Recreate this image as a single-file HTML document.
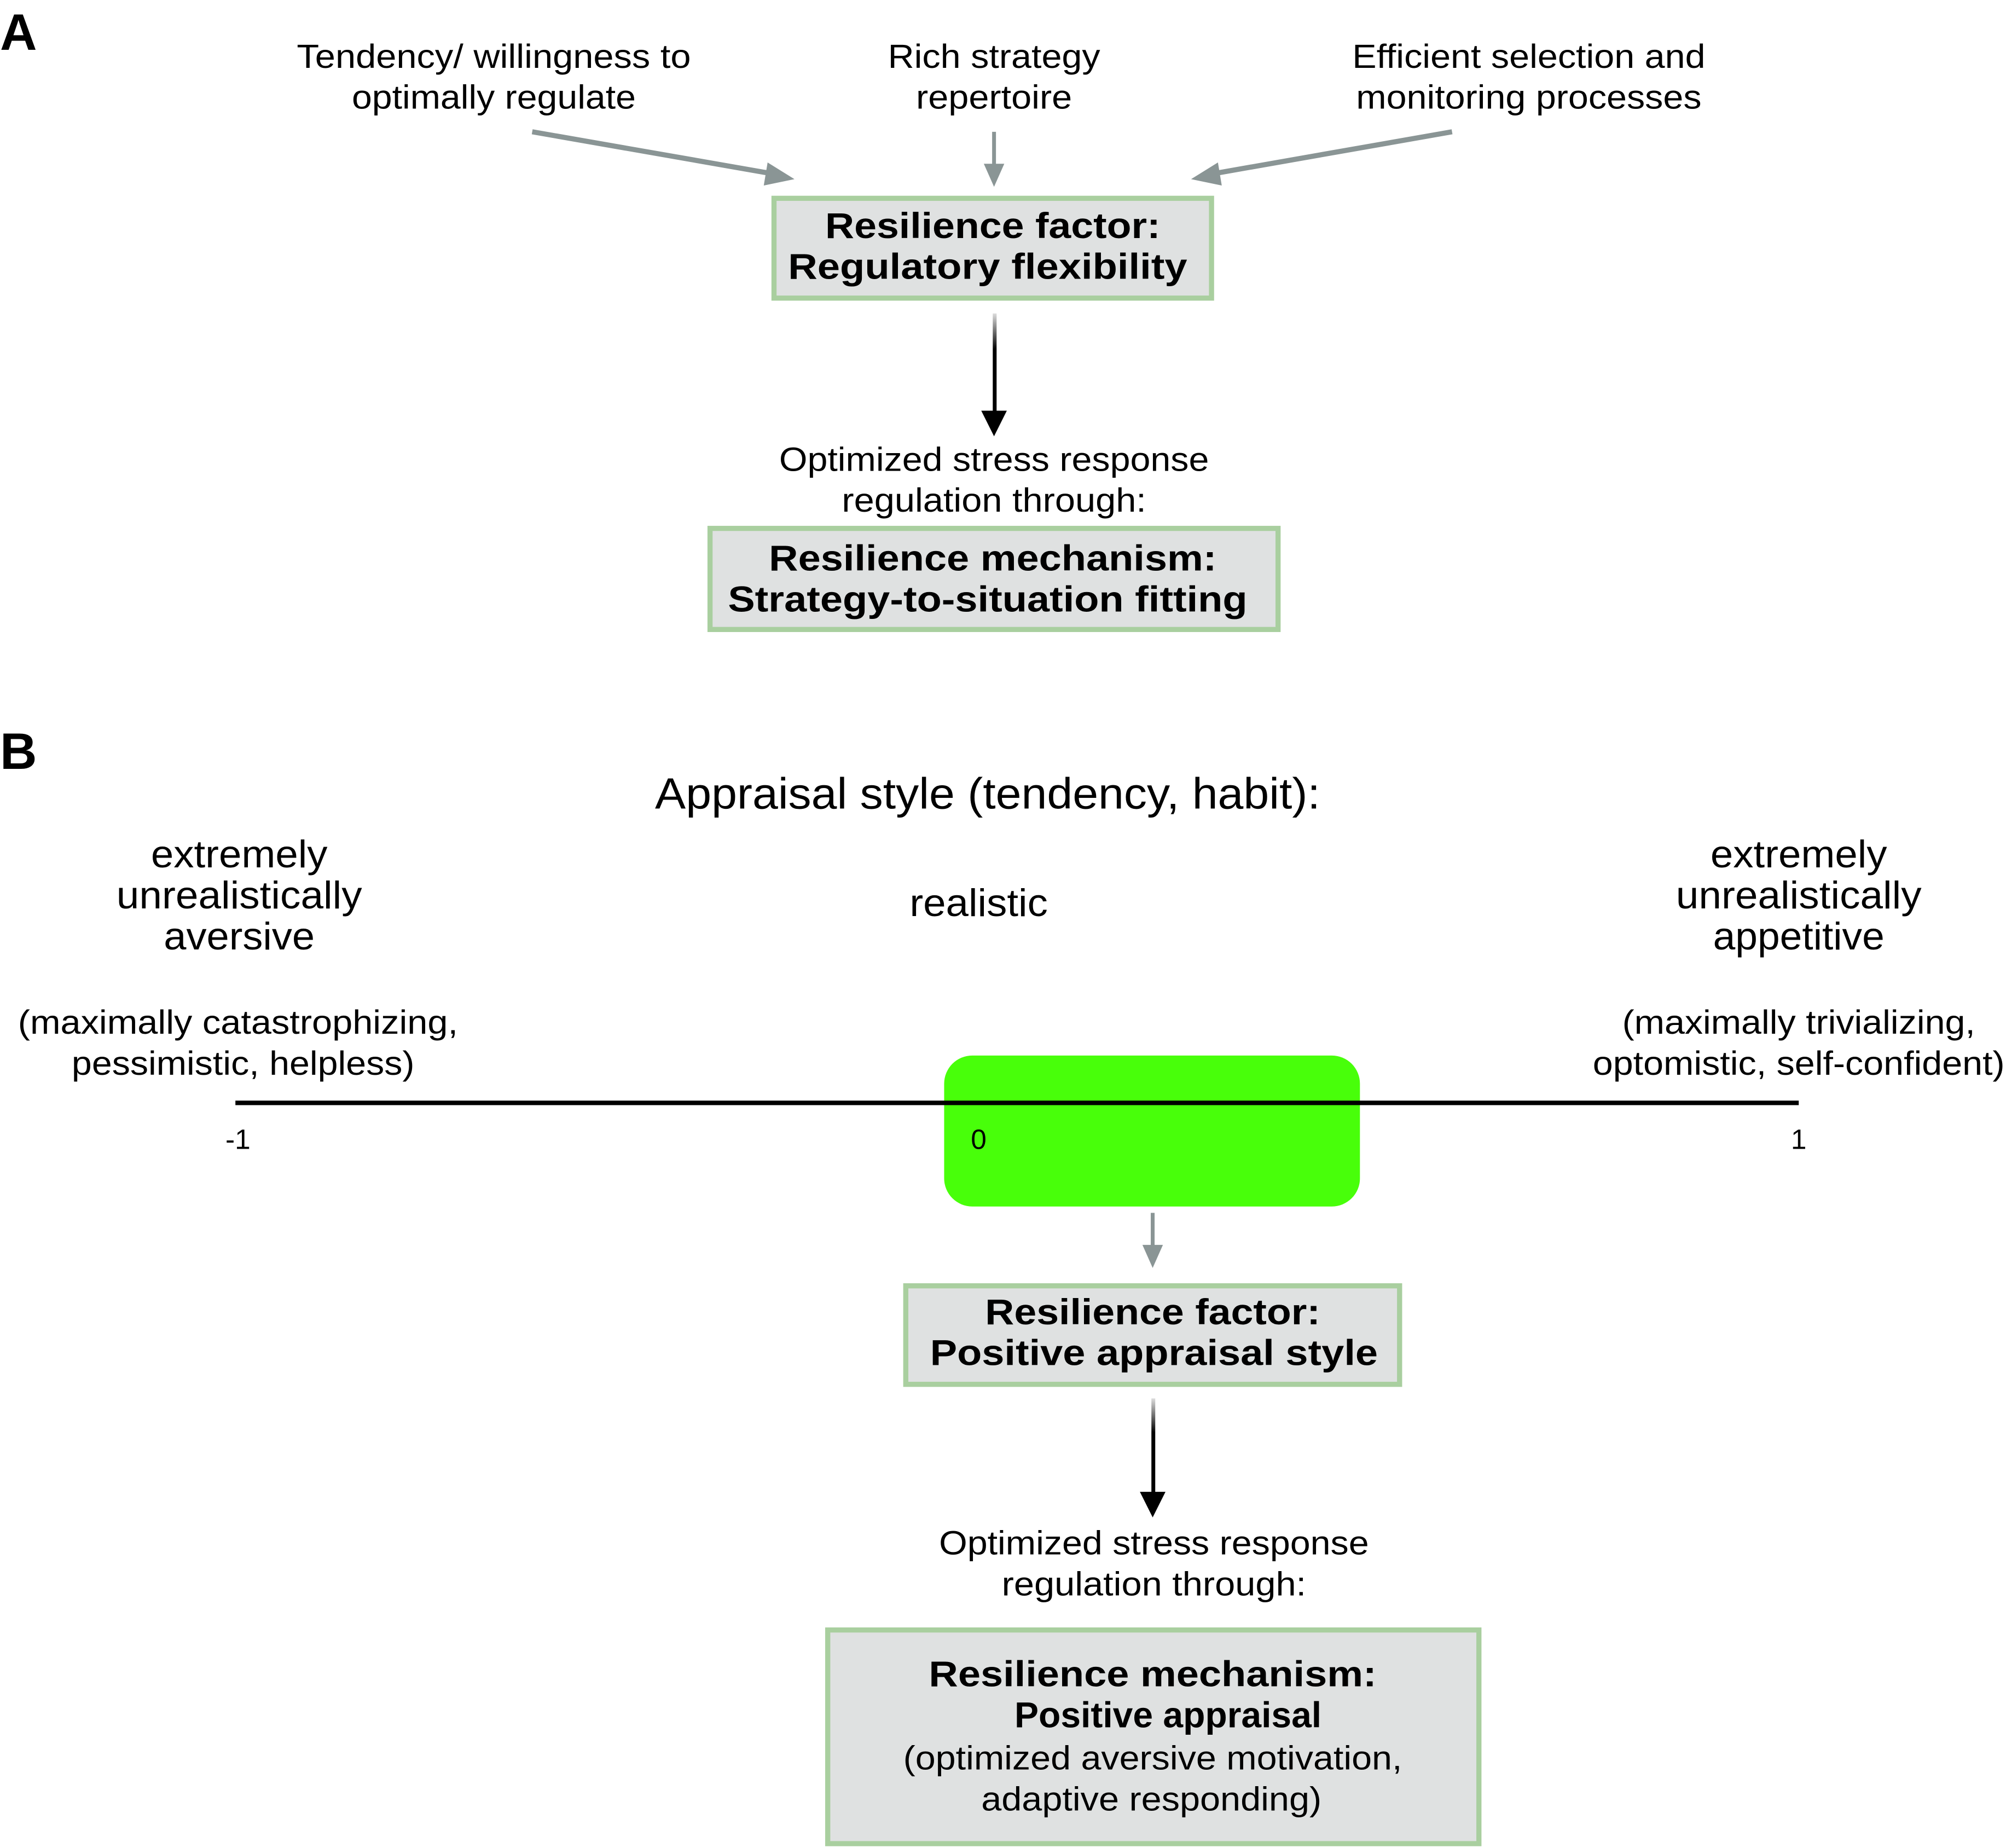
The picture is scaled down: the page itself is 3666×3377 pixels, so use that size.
<!DOCTYPE html>
<html><head><meta charset="utf-8"><style>
html,body{margin:0;padding:0;background:#fff;}
svg{display:block;}
text{font-family:"Liberation Sans",Arial,sans-serif;fill:#000;}
.n{font-size:26px;}
.b{font-size:28px;font-weight:bold;}
.l{font-size:30px;}
</style></head><body>
<svg width="3666" height="3377" viewBox="0 0 1568 1444.4" xmlns="http://www.w3.org/2000/svg">
<defs>
<linearGradient id="g" x1="0" y1="0" x2="0" y2="1"><stop offset="0" stop-color="#ddd"/><stop offset="0.35" stop-color="#000"/></linearGradient>
</defs>
<text x="0" y="39" style="font-size:40px;font-weight:bold">A</text>
<text x="0" y="601" style="font-size:40px;font-weight:bold">B</text>

<g class="n" text-anchor="middle">
<text x="386" y="53" textLength="308" lengthAdjust="spacingAndGlyphs">Tendency/ willingness to</text>
<text x="386" y="85" textLength="222" lengthAdjust="spacingAndGlyphs">optimally regulate</text>
<text x="777" y="53" textLength="166" lengthAdjust="spacingAndGlyphs">Rich strategy</text>
<text x="777" y="85" textLength="122" lengthAdjust="spacingAndGlyphs">repertoire</text>
<text x="1195" y="53" textLength="276" lengthAdjust="spacingAndGlyphs">Efficient selection and</text>
<text x="1195" y="85" textLength="270" lengthAdjust="spacingAndGlyphs">monitoring processes</text>
</g>

<g stroke="#8a9595" stroke-width="4" fill="#8a9595">
<line x1="416" y1="103" x2="605" y2="136"/>
<polygon points="621,140 600,127 597,145" stroke="none"/>
<line x1="777" y1="103" x2="777" y2="130" stroke-width="3"/>
<polygon points="769,128 785,128 777,146" stroke="none"/>
<line x1="1135" y1="103" x2="947" y2="136"/>
<polygon points="931,140 952,127 955,145" stroke="none"/>
<line x1="901" y1="948" x2="901" y2="975" stroke-width="3"/>
<polygon points="893,973 909,973 901,991" stroke="none"/>
</g>

<g fill="#dfe1e1" stroke="#a9cf9f" stroke-width="4">
<rect x="605" y="155" width="342" height="78"/>
<rect x="555" y="413" width="444" height="79"/>
<rect x="708" y="1005" width="386" height="77"/>
<rect x="647" y="1274" width="509" height="167"/>
</g>

<g class="b" text-anchor="middle">
<text x="776" y="186" textLength="262" lengthAdjust="spacingAndGlyphs">Resilience factor:</text>
<text x="772" y="218" textLength="312" lengthAdjust="spacingAndGlyphs">Regulatory flexibility</text>
<text x="776" y="446" textLength="350" lengthAdjust="spacingAndGlyphs">Resilience mechanism:</text>
<text x="772" y="478" textLength="406" lengthAdjust="spacingAndGlyphs">Strategy-to-situation fitting</text>
<text x="901" y="1035" textLength="262" lengthAdjust="spacingAndGlyphs">Resilience factor:</text>
<text x="902" y="1067" textLength="350" lengthAdjust="spacingAndGlyphs">Positive appraisal style</text>
<text x="901" y="1318" textLength="350" lengthAdjust="spacingAndGlyphs">Resilience mechanism:</text>
<text x="913" y="1350" textLength="240" lengthAdjust="spacingAndGlyphs">Positive appraisal</text>
</g>

<rect x="776" y="245" width="3" height="80" fill="url(#g)"/>
<polygon points="767,321 787,321 777,341" fill="#000"/>
<rect x="900" y="1093" width="3" height="76" fill="url(#g)"/>
<polygon points="891,1166 911,1166 901,1186" fill="#000"/>

<g class="n" text-anchor="middle">
<text x="777" y="368" textLength="336" lengthAdjust="spacingAndGlyphs">Optimized stress response</text>
<text x="777" y="400" textLength="238" lengthAdjust="spacingAndGlyphs">regulation through:</text>
<text x="902" y="1215" textLength="336" lengthAdjust="spacingAndGlyphs">Optimized stress response</text>
<text x="902" y="1247" textLength="238" lengthAdjust="spacingAndGlyphs">regulation through:</text>
<text x="901" y="1383" textLength="390" lengthAdjust="spacingAndGlyphs">(optimized aversive motivation,</text>
<text x="900" y="1415" textLength="266" lengthAdjust="spacingAndGlyphs">adaptive responding)</text>
</g>

<text x="772" y="632" text-anchor="middle" style="font-size:34px" textLength="520" lengthAdjust="spacingAndGlyphs">Appraisal style (tendency, habit):</text>
<g class="l" text-anchor="middle">
<text x="187" y="678" textLength="138" lengthAdjust="spacingAndGlyphs">extremely</text>
<text x="187" y="710" textLength="192" lengthAdjust="spacingAndGlyphs">unrealistically</text>
<text x="187" y="742" textLength="118" lengthAdjust="spacingAndGlyphs">aversive</text>
<text x="1406" y="678" textLength="138" lengthAdjust="spacingAndGlyphs">extremely</text>
<text x="1406" y="710" textLength="192" lengthAdjust="spacingAndGlyphs">unrealistically</text>
<text x="1406" y="742" textLength="134" lengthAdjust="spacingAndGlyphs">appetitive</text>
<text x="765" y="716" textLength="108" lengthAdjust="spacingAndGlyphs">realistic</text>
</g>
<g class="n" text-anchor="middle">
<text x="186" y="808" textLength="344" lengthAdjust="spacingAndGlyphs">(maximally catastrophizing,</text>
<text x="190" y="840" textLength="268" lengthAdjust="spacingAndGlyphs">pessimistic, helpless)</text>
<text x="1406" y="808" textLength="276" lengthAdjust="spacingAndGlyphs">(maximally trivializing,</text>
<text x="1406" y="840" textLength="322" lengthAdjust="spacingAndGlyphs">optomistic, self-confident)</text>
</g>

<rect x="738" y="825" width="325" height="118" rx="22" fill="#48ff0a"/>
<line x1="184" y1="862" x2="1406" y2="862" stroke="#000" stroke-width="3.5"/>
<g style="font-size:22px" text-anchor="middle">
<text x="186" y="898">-1</text>
<text x="765" y="898">0</text>
<text x="1406" y="898">1</text>
</g>
</svg>
</body></html>
